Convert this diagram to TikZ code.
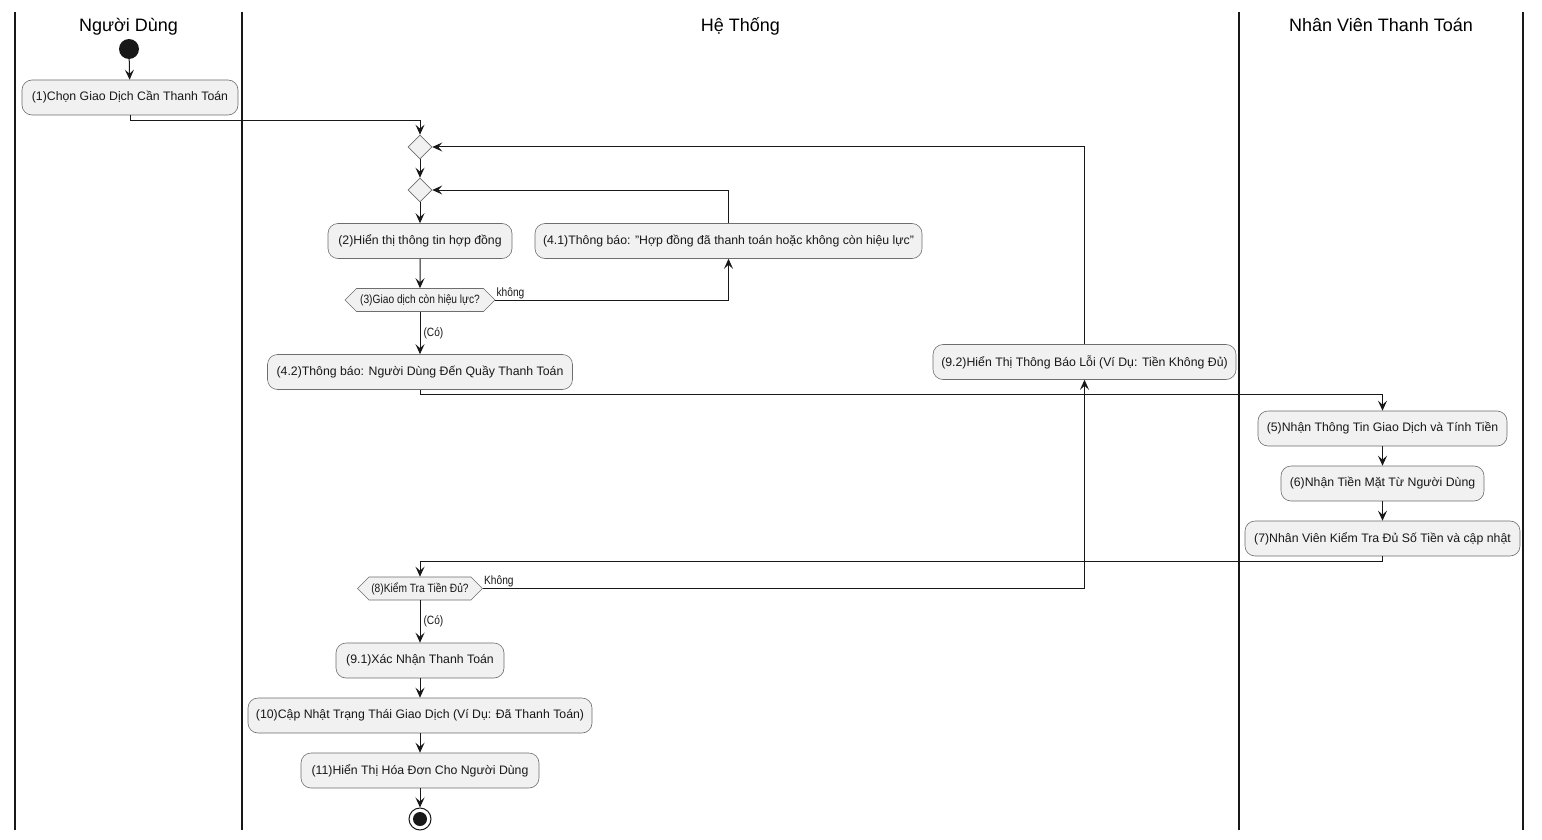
\documentclass[tikz,border=0pt]{standalone}
\usepackage{fontspec}
\setmainfont{Liberation Sans}
\newfontfamily\narrowsans[FakeStretch=0.85]{Liberation Sans}
\usetikzlibrary{shapes.geometric,shapes.symbols,arrows.meta}
\definecolor{boxfill}{HTML}{F1F1F1}
\definecolor{ink}{HTML}{181818}
\definecolor{edge}{HTML}{6E6E6E}
\begin{document}
\begin{tikzpicture}[x=1pt,y=-1pt,
  act/.style={draw=edge, line width=0.6pt, fill=boxfill, rounded corners=10pt,
    minimum height=35pt, inner xsep=6pt, font=\fontsize{12.3}{14}\selectfont, text=ink},
  merge/.style={diamond, draw=edge, fill=boxfill, line width=0.6pt,
    minimum width=24pt, minimum height=24pt, inner sep=0pt},
  cond/.style={signal, signal to=east and west, signal pointer angle=90,
    draw=edge, fill=boxfill, line width=0.6pt, minimum height=23pt, inner xsep=0pt,
    inner ysep=1pt, font=\narrowsans\fontsize{12}{13}\selectfont, text=ink},
  flow/.style={draw=ink, line width=1pt, -{Stealth[length=10pt,width=9pt,inset=4pt]}},
  lane/.style={draw=ink, line width=1.5pt},
  lanetitle/.style={font=\fontsize{18}{21}\selectfont, text=black, anchor=base},
  guard/.style={font=\narrowsans\fontsize{12}{13}\selectfont, inner sep=1pt, text=ink}
]
% canvas
\useasboundingbox[fill=white] (0,0) rectangle (1542,840);

% swimlanes
\draw[lane] (15,12) -- (15,830);
\draw[lane] (242,12) -- (242,830);
\draw[lane] (1239,12) -- (1239,830);
\draw[lane] (1523,12) -- (1523,830);
\node[lanetitle] (t1) at (128.5,31.5) {Người Dùng};
\node[lanetitle] (t2) at (740.5,31.5) {Hệ Thống};
\node[lanetitle] (t3) at (1381,31.5) {Nhân Viên Thanh Toán};

% start / stop
\node[circle, fill=ink, minimum size=20pt, inner sep=0pt] (start) at (129,49) {};
\node[circle, draw=ink, line width=1pt, fill=white, minimum size=22pt, inner sep=0pt] (stop) at (420,819) {};
\node[circle, fill=ink, minimum size=14pt, inner sep=0pt] (stopdot) at (stop.center) {};

% actions
\node[act, minimum width=216pt] (a1) at (130,97.5) {(1)Chọn Giao Dịch Cần Thanh Toán};
\node[merge] (d1) at (420,147) {};
\node[merge] (d2) at (420,190) {};
\node[act, minimum width=184pt] (a2) at (420,241) {(2)Hiển thị thông tin hợp đồng};
\node[act, minimum width=387pt] (a41) at (728.5,241) {(4.1)Thông báo: "Hợp đồng đã thanh toán hoặc không còn hiệu lực"};
\node[cond, minimum width=150pt] (d3) at (420,300) {(3)Giao dịch còn hiệu lực?};
\node[act, minimum width=305pt] (a42) at (420,372) {(4.2)Thông báo: Người Dùng Đến Quầy Thanh Toán};
\node[act, minimum width=303pt] (a92) at (1084.5,362) {(9.2)Hiển Thị Thông Báo Lỗi (Ví Dụ: Tiền Không Đủ)};
\node[act, minimum width=249pt] (a5) at (1382.5,428.5) {(5)Nhận Thông Tin Giao Dịch và Tính Tiền};
\node[act, minimum width=203pt] (a6) at (1382.5,483.5) {(6)Nhận Tiền Mặt Từ Người Dùng};
\node[act, minimum width=275pt] (a7) at (1382.5,538.5) {(7)Nhân Viên Kiểm Tra Đủ Số Tiền và cập nhật};
\node[cond, minimum width=125pt] (d8) at (420,588.5) {(8)Kiểm Tra Tiền Đủ?};
\node[act, minimum width=168pt] (a91) at (420,660.5) {(9.1)Xác Nhận Thanh Toán};
\node[act, minimum width=344pt] (a10) at (420,715.5) {(10)Cập Nhật Trạng Thái Giao Dịch (Ví Dụ: Đã Thanh Toán)};
\node[act, minimum width=238pt] (a11) at (420,770.5) {(11)Hiển Thị Hóa Đơn Cho Người Dùng};

% flows
\draw[flow] (start) -- (a1);
\draw[flow] (a1.south) -- ++(0,5) -| (d1.north);
\draw[flow] (d1) -- (d2);
\draw[flow] (d2) -- (a2);
\draw[flow] (a2) -- (d3);
\draw[flow] (d3.east) -| (a41.south);
\node[guard, anchor=south west] (lno1) at (d3.east) {không};
\draw[flow] (a41.north) |- (d2.east);
\draw[flow] (d3.south) -- node[guard, right=2pt] (lyes1) {(Có)} (a42.north);
\draw[flow] (a42.south) -- ++(0,5) -| (a5.north);
\draw[flow] (a5) -- (a6);
\draw[flow] (a6) -- (a7);
\draw[flow] (a7.south) -- ++(0,5) -| (d8.north);
\draw[flow] (d8.east) -| (a92.south);
\node[guard, anchor=south west] (lno2) at (d8.east) {Không};
\draw[flow] (a92.north) |- (d1.east);
\draw[flow] (d8.south) -- node[guard, right=2pt] (lyes2) {(Có)} (a91.north);
\draw[flow] (a91) -- (a10);
\draw[flow] (a10) -- (a11);
\draw[flow] (a11) -- (stop);
\end{tikzpicture}
\end{document}
